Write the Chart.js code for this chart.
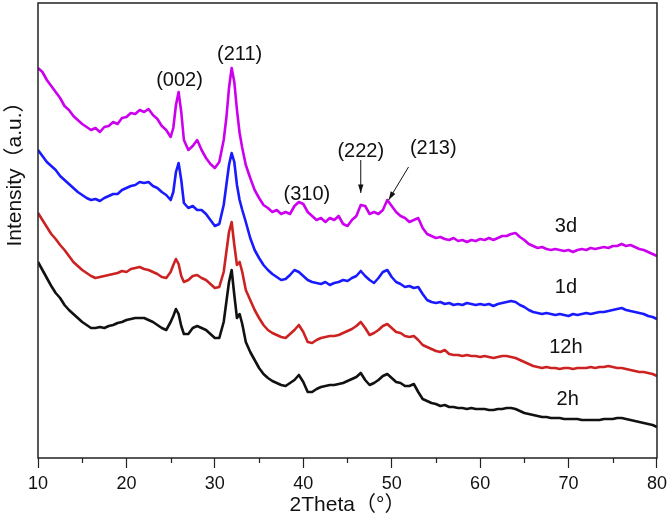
<!DOCTYPE html>
<html>
<head>
<meta charset="utf-8">
<script src="https://cdn.jsdelivr.net/npm/chart.js@4.4.1/dist/chart.umd.min.js"></script>
<style>
  html, body { margin: 0; padding: 0; background: #fff; }
  #wrap { width: 672px; height: 522px; }
</style>
</head>
<body>
<div id="wrap"><canvas id="xrd" width="672" height="522"></canvas></div>
<script>
// 2Theta grid (degrees), denser around the (002) and (211) reflections
const theta = [10,10.5,11,11.5,12,12.5,13,13.5,14,14.5,15,15.5,16,16.5,17,17.5,18,18.5,19,19.5,20,20.5,21,21.5,22,22.5,23,23.5,24,24.5,25,
  25.3,25.6,25.9,26.2,26.5,
  27,27.5,28,28.5,29,29.5,30,30.5,31,
  31.3,31.6,31.9,32.2,32.5,32.8,33.1,
  33.5,
  34,34.5,35,35.5,36,36.5,37,37.5,38,38.5,39,39.5,40,40.5,41,41.5,42,42.5,43,43.5,44,44.5,45,45.5,46,46.5,47,47.5,48,48.5,49,49.5,
  50,50.5,51,51.5,52,52.5,53,53.5,54,54.5,55,55.5,56,56.5,57,57.5,58,58.5,59,59.5,60,60.5,61,61.5,62,62.5,63,63.5,64,64.5,
  65,65.5,66,66.5,67,67.5,68,68.5,69,69.5,70,70.5,71,71.5,72,72.5,73,73.5,74,74.5,75,75.5,76,76.5,77,77.5,78,78.5,79,79.5,80]

// intensities (a.u., curves stacked with offsets as in the figure)
const int3d = [390,386,378,372,366,360,352,348,342,338,334,331,328,330,326,331,332,336,334,340,341,345,344,348,346,349,343,339,332,328,321,
  330,353,366,346,318,
  308,312,318,308,300,294,290,296,318,
  340,370,390,376,348,325,310,
  293,
  280,268,260,253,250,246,248,244,246,244,252,256,254,246,242,238,240,236,240,238,242,234,232,238,242,253,252,244,246,244,248,258,
  252,246,242,240,236,238,240,230,224,222,220,221,219,218,220,217,218,216,218,217,219,218,220,218,220,222,222,224,225,221,
  218,214,212,210,211,209,208,209,208,207,208,206,208,209,208,210,209,210,211,210,212,212,214,212,213,211,209,208,206,204,202]

const int1d = [308,302,296,292,288,282,278,274,270,266,263,260,258,259,257,260,262,264,264,268,270,272,273,276,275,276,272,270,266,263,258,
  266,286,295,278,255,
  250,252,248,248,244,238,232,234,253,
  273,293,305,296,273,258,248,
  236,
  220,208,200,193,188,184,181,178,179,183,188,186,182,178,176,175,174,176,173,175,176,178,177,180,182,187,182,178,175,180,186,188,
  181,176,174,171,172,170,171,164,158,156,155,156,154,155,153,154,153,155,154,153,154,153,154,152,154,155,156,157,156,153,
  151,148,146,145,144,145,144,143,144,143,142,144,143,144,145,144,145,146,146,147,148,149,150,148,147,146,145,144,142,141,139]

const int12h = [245,238,231,224,219,213,208,202,196,192,188,185,182,180,181,182,183,184,185,187,186,189,190,191,189,188,186,184,181,180,186,
  193,199,194,182,176,
  178,182,183,180,178,174,170,171,186,
  206,226,236,213,193,196,186,
  168,
  158,148,140,133,128,125,123,121,120,124,128,133,126,116,115,118,120,121,122,122,123,125,127,129,132,136,130,123,125,128,132,134,
  130,126,125,122,121,122,118,113,111,109,107,106,108,104,103,103,102,103,102,102,101,102,101,100,101,102,102,101,100,98,
  96,94,92,91,90,91,90,90,89,90,90,89,90,90,90,91,90,91,91,92,91,90,90,89,88,87,86,86,85,84,82]

const int2h = [196,188,180,172,165,160,153,148,144,140,136,133,130,130,131,130,132,133,135,136,138,139,140,140,140,138,136,133,130,128,136,
  142,149,144,132,124,
  124,130,132,130,128,124,120,120,136,
  156,176,188,163,140,144,134,
  116,
  106,98,90,84,80,77,75,73,72,75,78,83,76,66,66,69,71,72,73,73,74,75,77,79,81,85,78,73,75,78,82,84,
  80,76,75,72,72,74,66,59,57,55,54,52,53,51,51,50,50,49,50,49,49,49,48,48,49,49,50,50,49,47,
  45,44,43,42,41,41,40,40,40,39,39,39,39,38,38,38,38,38,39,39,39,40,40,39,38,37,36,35,34,33,31]

const seriesNames = ["3d", "1d", "12h", "2h"]
const seriesColors = ["#cc00ee", "#1a1aff", "#cc2222", "#111111"]

// peak labels and sample labels, in data units (theta, intensity)
const peakLabels = ["(002)", "(211)", "(310)", "(222)", "(213)"]
const peakTheta = [26.0, 32.8, 40.4, 46.5, 54.7]
const peakInt = [378, 404, 264, 307, 310]
const sampleTheta = [69.7, 69.7, 69.7, 69.9]
const sampleInt = [232, 171, 111, 59]
// arrows: [theta0, int0, theta1, int1]
const arrows = [[46.5, 298, 46.5, 265], [51.9, 291, 49.65, 258]]

const FONT = "'Liberation Sans', Arial, 'Noto Sans CJK SC', sans-serif"

const toPoints = (vals) => vals.map((v, i) => ({x: theta[i], y: v}))

const extras = {
  id: "extras",
  afterDraw(chart) {
    const {ctx, chartArea: a, scales: {x, y}} = chart
    ctx.save()
    // frame
    ctx.strokeStyle = "#222"
    ctx.lineWidth = 1.5
    ctx.strokeRect(a.left, a.top, a.right - a.left, a.bottom - a.top)
    // minor ticks
    ctx.lineWidth = 1.2
    for (let t = 15; t < 80; t += 10) {
      const px = Math.round(x.getPixelForValue(t)) + 0.5
      ctx.beginPath()
      ctx.moveTo(px, a.bottom)
      ctx.lineTo(px, a.bottom + 5)
      ctx.stroke()
    }
    // text
    ctx.fillStyle = "#111"
    ctx.textAlign = "center"
    ctx.textBaseline = "middle"
    ctx.font = "20px " + FONT
    peakLabels.forEach((s, i) => {
      ctx.fillText(s, x.getPixelForValue(peakTheta[i]), y.getPixelForValue(peakInt[i]))
    })
    seriesNames.forEach((s, i) => {
      ctx.fillText(s, x.getPixelForValue(sampleTheta[i]), y.getPixelForValue(sampleInt[i]))
    })
    // arrows
    ctx.strokeStyle = "#111"
    ctx.lineWidth = 1
    arrows.forEach(([t0, i0, t1, i1]) => {
      const x0 = x.getPixelForValue(t0), y0 = y.getPixelForValue(i0)
      const x1 = x.getPixelForValue(t1), y1 = y.getPixelForValue(i1)
      ctx.beginPath()
      ctx.moveTo(x0, y0)
      ctx.lineTo(x1, y1)
      ctx.stroke()
      const ang = Math.atan2(y1 - y0, x1 - x0)
      ctx.beginPath()
      ctx.moveTo(x1, y1)
      ctx.lineTo(x1 - 9 * Math.cos(ang - 0.3), y1 - 9 * Math.sin(ang - 0.3))
      ctx.lineTo(x1 - 9 * Math.cos(ang + 0.3), y1 - 9 * Math.sin(ang + 0.3))
      ctx.closePath()
      ctx.fill()
    })
    // y title
    ctx.translate(15, 169)
    ctx.rotate(-Math.PI / 2)
    ctx.font = "21px " + FONT
    ctx.fillText("Intensity（a.u.）", 0, 0)
    ctx.restore()
  }
}

new Chart(document.getElementById("xrd"), {
  type: "line",
  data: {
    datasets: [int3d, int1d, int12h, int2h].map((vals, i) => ({
      label: seriesNames[i],
      data: toPoints(vals),
      borderColor: seriesColors[i],
      borderWidth: 2.6,
      borderJoinStyle: "round",
      pointRadius: 0,
      tension: 0,
      fill: false
    }))
  },
  options: {
    responsive: false,
    animation: false,
    layout: { padding: { left: 38, right: 12, top: 3, bottom: 0 } },
    plugins: { legend: { display: false }, tooltip: { enabled: false } },
    scales: {
      x: {
        type: "linear",
        min: 10,
        max: 80,
        afterFit: (scale) => { scale.height = 64 },
        border: { display: false },
        grid: { drawOnChartArea: false, tickLength: 10, tickColor: "#222", tickWidth: 1.2 },
        ticks: { stepSize: 10, color: "#111", padding: 5, font: { size: 18, family: FONT } },
        title: {
          display: true,
          text: "2Theta（°）",
          color: "#111",
          font: { size: 21, family: FONT },
          padding: { top: 0, bottom: 4 }
        }
      },
      y: { display: false, min: 0, max: 455 }
    }
  },
  plugins: [extras]
})
</script>
</body>
</html>
